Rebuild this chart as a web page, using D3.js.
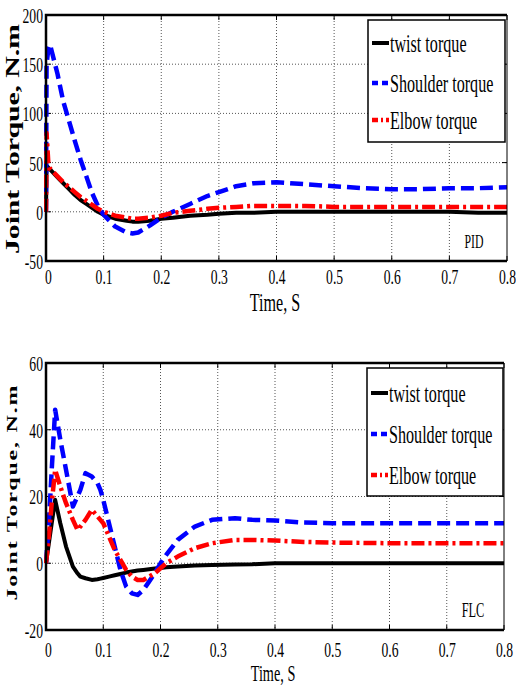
<!DOCTYPE html>
<html>
<head>
<meta charset="utf-8">
<script src="https://cdn.jsdelivr.net/npm/d3@7"></script>
<style>
  html, body { margin: 0; padding: 0; background: #fff; }
  svg { display: block; font-family: "Liberation Serif", "Times New Roman", serif; }
</style>
</head>
<body>
<div id="chart"></div>
<script>
// ---- data ----
const xTicks = [0, 0.1, 0.2, 0.3, 0.4, 0.5, 0.6, 0.7, 0.8];
const pidYTicks = [-50, 0, 50, 100, 150, 200];
const flcYTicks = [-20, 0, 20, 40, 60];
const seriesNames = ['twist torque', 'Shoulder torque', 'Elbow torque'];

// PID panel
const pidTime = [0, 0.001, 0.004, 0.007, 0.02, 0.03, 0.04, 0.05, 0.06, 0.07, 0.08, 0.09,
    0.1, 0.12, 0.14, 0.15, 0.16, 0.18, 0.2, 0.22, 0.25, 0.28, 0.3, 0.33, 0.36, 0.4,
    0.45, 0.5, 0.55, 0.6, 0.65, 0.7, 0.75, 0.8];
const pidTwist = [0, 47, 45, 43, 35, 29, 23, 17, 12, 8, 4, 0,
    -3, -7, -9, -10, -10, -9, -7, -6, -4, -3, -2, -1, -1, 0,
    0, 0, 0, 0, 0, 0, -1, -1];
const pidShoulder = [0, 150, 165, 170, 140, 112, 92, 72, 53, 36, 19, 6,
    -3, -15, -21, -22, -21, -14, -6, 0, 8, 16, 20, 26, 29, 30,
    28, 26, 24, 23, 23, 24, 24, 25];
const pidElbow = [0, 80, 50, 44, 36, 30, 25, 20, 15, 11, 7, 3,
    0, -4, -6, -7, -7, -6, -4, -1, 1, 3, 4, 5, 6, 6,
    6, 5, 5, 5, 5, 5, 5, 5];

// FLC panel
const flcTime = [0, 0.005, 0.01, 0.016, 0.025, 0.035, 0.047, 0.055, 0.06, 0.069, 0.08, 0.09,
    0.095, 0.1, 0.11, 0.12, 0.13, 0.14, 0.15, 0.16, 0.17, 0.18, 0.19, 0.2, 0.21, 0.23,
    0.26, 0.29, 0.33, 0.36, 0.4, 0.45, 0.5, 0.6, 0.7, 0.8];
const flcTwist = [0, 6, 12, 19, 12, 5, -1, -3, -4, -4.5, -5, -4.8,
    -4.6, -4.4, -4, -3.6, -3.2, -2.8, -2.5, -2.2, -2, -1.8, -1.6, -1.4, -1.2, -1,
    -0.7, -0.5, -0.4, -0.3, 0, 0, 0, 0, 0, 0];
const flcShoulder = [0, 12, 28, 46, 37, 28, 17, 20, 22, 27, 26, 24,
    22, 19, 12, 5, -2, -7, -9, -9.5, -8, -5.5, -3, 0, 2.5, 7,
    11, 13, 13.5, 13, 12.8, 12.2, 12, 12, 12, 12];
const flcElbow = [0, 8, 18, 28, 23, 18, 13, 10, 11, 13, 16, 14,
    13, 12, 8, 4, 1, -2, -4, -5, -5, -4, -3, -1.5, 0, 2,
    4.5, 6, 7, 7, 6.8, 6.4, 6.2, 6, 6, 6];

// ---- styling ----
const SQ = 0.62;   // the source picture is squeezed horizontally
const lineStyles = [
    { color: '#000000', width: 4, dash: null },
    { color: '#0000ff', width: 4.5, dash: '13,6' },
    { color: '#ff0000', width: 4.5, dash: '13,4,3,4' }
];

const svg = d3.select('#chart').append('svg')
    .attr('width', 516)
    .attr('height', 689);

// squeezed text helper
function sqText(g, x, y, str, size, anchor) {
    return g.append('text')
        .attr('transform', `translate(${x},${y}) scale(${SQ},1)`)
        .attr('text-anchor', anchor || 'middle')
        .style('font-size', size + 'px')
        .text(str);
}

function drawPanel(cfg) {
    const x = d3.scaleLinear().domain([0, 0.8]).range([cfg.left, cfg.right]);
    const y = d3.scaleLinear().domain(cfg.yDomain).range([cfg.bottom, cfg.top]);
    const g = svg.append('g');

    // grid
    g.append('g').selectAll('line.vx')
        .data(xTicks.slice(1, -1))
        .join('line')
        .attr('x1', d => x(d)).attr('x2', d => x(d))
        .attr('y1', cfg.top).attr('y2', cfg.bottom)
        .attr('stroke', '#555').attr('stroke-width', 1).attr('stroke-dasharray', '1,2');
    g.append('g').selectAll('line.hy')
        .data(cfg.yTicks.slice(1, -1))
        .join('line')
        .attr('x1', cfg.left).attr('x2', cfg.right)
        .attr('y1', d => y(d)).attr('y2', d => y(d))
        .attr('stroke', '#555').attr('stroke-width', 1).attr('stroke-dasharray', '1,2');

    // small inward ticks
    const tk = g.append('g').attr('stroke', '#000').attr('stroke-width', 1);
    xTicks.forEach(d => {
        tk.append('line').attr('x1', x(d)).attr('x2', x(d)).attr('y1', cfg.bottom).attr('y2', cfg.bottom - 5);
        tk.append('line').attr('x1', x(d)).attr('x2', x(d)).attr('y1', cfg.top).attr('y2', cfg.top + 5);
    });
    cfg.yTicks.forEach(d => {
        tk.append('line').attr('x1', cfg.left).attr('x2', cfg.left + 5).attr('y1', y(d)).attr('y2', y(d));
        tk.append('line').attr('x1', cfg.right).attr('x2', cfg.right - 5).attr('y1', y(d)).attr('y2', y(d));
    });

    // series
    const clipId = 'clip-' + cfg.name;
    svg.append('clipPath').attr('id', clipId)
        .append('rect')
        .attr('x', cfg.left - 2).attr('y', cfg.top)
        .attr('width', cfg.right - cfg.left + 2).attr('height', cfg.bottom - cfg.top);

    const line = d3.line()
        .x((d, i) => x(cfg.time[i]))
        .y(d => y(d));

    const lines = g.append('g').attr('clip-path', `url(#${clipId})`);
    cfg.series.forEach((vals, i) => {
        const s = lineStyles[i];
        lines.append('path')
            .datum(vals)
            .attr('d', line)
            .attr('fill', 'none')
            .attr('stroke', s.color)
            .attr('stroke-width', s.width)
            .attr('stroke-dasharray', s.dash)
            .attr('stroke-linejoin', 'round');
    });

    // frame
    g.append('path')
        .attr('d', `M${cfg.right},${cfg.top}H${cfg.left}V${cfg.bottom}H${cfg.right}`)
        .attr('fill', 'none').attr('stroke', '#000').attr('stroke-width', 2.5);
    g.append('line')
        .attr('x1', cfg.right).attr('x2', cfg.right)
        .attr('y1', cfg.top).attr('y2', cfg.bottom)
        .attr('stroke', '#000').attr('stroke-width', 1);

    // axes (labels only)
    const xAxis = g.append('g')
        .attr('transform', `translate(0,${cfg.bottom})`)
        .call(d3.axisBottom(x).tickValues(xTicks).tickSize(0).tickFormat(d3.format('')));
    xAxis.select('.domain').remove();
    xAxis.selectAll('text')
        .attr('y', 0).attr('dy', null)
        .attr('transform', d => `translate(${d === 0 ? 2 : 0},${cfg.xLabelOffset}) scale(${SQ},1)`)
        .style('font-family', '"Liberation Serif", "Times New Roman", serif')
        .style('font-size', '22px')
        .attr('fill', '#000');

    const yAxis = g.append('g')
        .attr('transform', `translate(${cfg.left},0)`)
        .call(d3.axisLeft(y).tickValues(cfg.yTicks).tickSize(0).tickFormat(d => String(d).replace('\u2212', '-')));
    yAxis.select('.domain').remove();
    yAxis.selectAll('text')
        .attr('x', 0).attr('dy', '0.34em')
        .attr('transform', `translate(-3,0) scale(${SQ},1)`)
        .style('font-family', '"Liberation Serif", "Times New Roman", serif')
        .style('font-size', '22px')
        .attr('fill', '#000');

    // axis titles
    sqText(g, cfg.xTitle.x, cfg.xTitle.y, 'Time, S', cfg.xTitle.size);
    g.append('text')
        .attr('transform', `translate(${cfg.yTitle.x},${cfg.yTitle.y}) scale(${SQ},1) rotate(-90)`)
        .attr('text-anchor', 'middle')
        .attr('textLength', cfg.yTitle.len)
        .attr('lengthAdjust', 'spacing')
        .style('font-size', cfg.yTitle.size + 'px')
        .style('font-weight', 'bold')
        .text('Joint Torque, N.m');

    // controller tag
    sqText(g, cfg.tag.x, cfg.tag.y, cfg.tag.text, cfg.tag.size);

    // legend
    const lg = g.append('g');
    lg.append('rect')
        .attr('x', cfg.legend.x).attr('y', cfg.legend.y)
        .attr('width', cfg.legend.w).attr('height', cfg.legend.h)
        .attr('fill', '#fff').attr('stroke', '#000').attr('stroke-width', 1.5);
    seriesNames.forEach((name, i) => {
        const s = lineStyles[i];
        const ly = cfg.legend.rows[i];
        lg.append('line')
            .attr('x1', cfg.legend.x + 4).attr('x2', cfg.legend.x + 21)
            .attr('y1', ly).attr('y2', ly)
            .attr('stroke', s.color).attr('stroke-width', s.width)
            .attr('stroke-dasharray', i === 0 ? null : (i === 1 ? '6,4' : '6,3,2,3'));
        sqText(lg, cfg.legend.x + 22, ly + 8.5, name, 26, 'start');
    });
}

drawPanel({
    name: 'pid',
    left: 46, right: 507, top: 15, bottom: 261,
    yDomain: [-50, 200], yTicks: pidYTicks,
    time: pidTime, series: [pidTwist, pidShoulder, pidElbow],
    xLabelOffset: 23,
    xTitle: { x: 275, y: 311, size: 26 },
    yTitle: { x: 19, y: 139, len: 230, size: 30 },
    tag: { x: 474, y: 248, text: 'PID', size: 19 },
    legend: { x: 368, y: 20, w: 137, h: 122, rows: [43, 83, 120] }
});

drawPanel({
    name: 'flc',
    left: 46, right: 504, top: 363, bottom: 630,
    yDomain: [-20, 60], yTicks: flcYTicks,
    time: flcTime, series: [flcTwist, flcShoulder, flcElbow],
    xLabelOffset: 27,
    xTitle: { x: 273, y: 681, size: 23 },
    yTitle: { x: 17, y: 493, len: 215, size: 24 },
    tag: { x: 473, y: 617, text: 'FLC', size: 20 },
    legend: { x: 367, y: 368, w: 136, h: 128, rows: [393, 434, 475] }
});
</script>
</body>
</html>
